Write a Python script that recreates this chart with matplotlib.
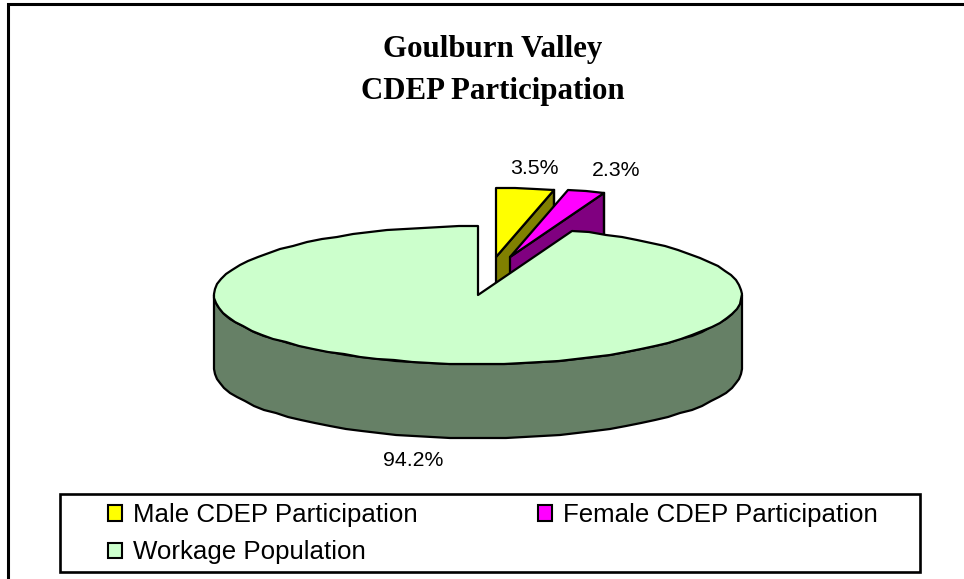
import matplotlib
matplotlib.use('Agg')
import matplotlib.pyplot as plt
from matplotlib.patches import Patch, Rectangle
import numpy as np

# pie data, in percent
labels = ['Male CDEP Participation', 'Female CDEP Participation', 'Workage Population']
values = [3.5, 2.3, 94.2]
value_text = ['3.5%', '2.3%', '94.2%']

top_colors = ['#FFFF00', '#FF00FF', '#CCFFCC']
side_colors = ['#808000', '#800080', '#668066']

# how far each slice is pulled away from the centre, pixels
offset_x = [18, 32, 0]
offset_y = [-38, -38, 0]

cx, cy = 478, 295
rx, ry = 264, 69
depth = 74


def arc(a0, a1, ox, oy):
    # a is degrees clockwise from 12 o'clock
    n = max(2, int(abs(a1 - a0) / 4) + 1)
    a = np.radians(np.linspace(a0, a1, n))
    x = cx + ox + rx * np.sin(a)
    y = cy + oy - ry * np.cos(a)
    return np.round(x), np.round(y)


def draw_slice(a0, a1, ox, oy, top, side, zo):
    px, py = cx + ox, cy + oy
    x, y = arc(a0, a1, ox, oy)
    if a1 < 90:
        # small slices at the back only show the cut face on the right
        ex, ey = x[-1], y[-1]
        ax.fill([px, ex, ex, px], [py, ey, ey + depth, py + depth],
                fc=side, ec='k', lw=lw, zorder=zo, joinstyle='round')
        ax.plot([ex, ex], [ey, ey + depth], color='k', lw=lw, zorder=zo)
    else:
        # outer wall of the big slice, from the right edge to the left edge
        xw, yw = arc(90, 270, ox, oy)
        ax.fill(np.r_[xw, xw[::-1]], np.r_[yw, yw[::-1] + depth],
                fc=side, ec='k', lw=lw, zorder=zo, joinstyle='round')
    ax.fill(np.r_[px, x], np.r_[py, y], fc=top, ec='k', lw=lw, zorder=zo + 1,
            joinstyle='round')


fig = plt.figure(figsize=(9.64, 5.79), dpi=100)
ax = fig.add_axes([0, 0, 1, 1])
ax.set_xlim(0, 964)
ax.set_ylim(579, 0)
ax.axis('off')
lw = 1.6

# chart frame, right and bottom edge are cut off in the picture
ax.plot([8, 8, 964], [579, 4, 4], color='k', lw=2.2, solid_joinstyle='miter')

ax.text(493, 49, 'Goulburn Valley', ha='center', va='center', fontsize=22.2,
        family='Liberation Serif', weight='bold')
ax.text(493, 91, 'CDEP Participation', ha='center', va='center', fontsize=22.2,
        family='Liberation Serif', weight='bold')

# slices from the 12 o'clock position clockwise, back ones first
start = np.r_[0, np.cumsum(values)[:-1]] * 3.6
end = np.cumsum(values) * 3.6
for i in range(3):
    draw_slice(start[i], end[i], offset_x[i], offset_y[i], top_colors[i], side_colors[i], 2 + 2 * i)

label_pos = [(534, 169), (616, 171), (413, 460)]
for t, p in zip(value_text, label_pos):
    ax.text(p[0], p[1], t, ha='center', va='center', fontsize=15.3, family='Liberation Sans')

# legend box
ax.add_patch(Rectangle((60, 494), 860, 78, fc='w', ec='k', lw=1.9, zorder=8))

# legend fills by column, so swap to get Male and Female on the first row
order = [0, 2, 1]
handles = [Patch(fc=top_colors[i], ec='k', lw=1.5) for i in order]
leg = ax.legend(handles, [labels[i] for i in order], ncol=2, loc='upper left',
                bbox_to_anchor=(108 / 964, 1 - 503 / 579), borderaxespad=0, frameon=False,
                prop={'family': 'Liberation Sans', 'size': 18.6},
                handlelength=0.55, handleheight=0.55, handletextpad=0.43,
                borderpad=0, labelspacing=0.52, columnspacing=4.65)
leg.set_zorder(9)

plt.savefig('out.png', dpi=100)
